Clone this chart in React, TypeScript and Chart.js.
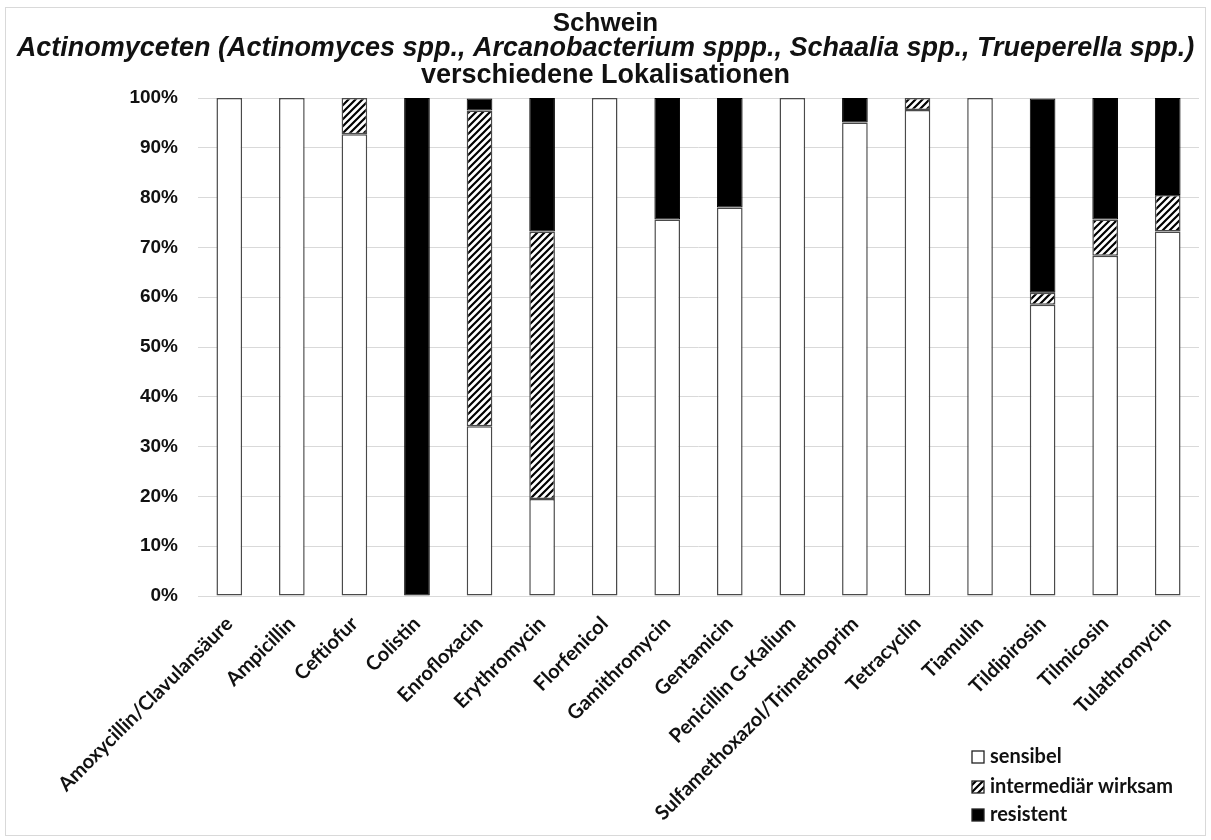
import React, { useEffect, useRef } from 'react';
import { Chart, registerables } from 'chart.js';

Chart.register(...registerables);

const categories = [
  'Amoxycillin/Clavulansäure',
  'Ampicillin',
  'Ceftiofur',
  'Colistin',
  'Enrofloxacin',
  'Erythromycin',
  'Florfenicol',
  'Gamithromycin',
  'Gentamicin',
  'Penicillin G-Kalium',
  'Sulfamethoxazol/Trimethoprim',
  'Tetracyclin',
  'Tiamulin',
  'Tildipirosin',
  'Tilmicosin',
  'Tulathromycin',
];

const sensibel = [100, 100, 92.7, 0, 34.1, 19.5, 100, 75.6, 78.0, 100, 95.1, 97.6, 100, 58.5, 68.3, 73.2];
const intermediaer = [0, 0, 7.3, 0, 63.4, 53.7, 0, 0, 0, 0, 0, 2.4, 0, 2.4, 7.3, 7.3];
const resistent = [0, 0, 0, 100, 2.4, 26.8, 0, 24.4, 22.0, 0, 4.9, 0, 0, 39.0, 24.4, 19.5];

const seriesLabels = ['sensibel', 'intermediär wirksam', 'resistent'];
const titleLines = [
  'Schwein',
  'Actinomyceten (Actinomyces spp., Arcanobacterium sppp., Schaalia spp., Trueperella spp.)',
  'verschiedene Lokalisationen',
];

function makeHatch(): CanvasPattern | string {
  const s = 7;
  const c = document.createElement('canvas');
  c.width = s;
  c.height = s;
  const g = c.getContext('2d');
  if (!g) return '#888';
  g.fillStyle = '#ffffff';
  g.fillRect(0, 0, s, s);
  g.strokeStyle = '#000000';
  g.lineWidth = 2.2;
  g.beginPath();
  g.moveTo(-1, s + 1);
  g.lineTo(s + 1, -1);
  g.moveTo(-s / 2 - 1, s / 2 + 1);
  g.lineTo(s / 2 + 1, -s / 2 - 1);
  g.moveTo(s / 2 - 1, s * 1.5 + 1);
  g.lineTo(s * 1.5 + 1, s / 2 - 1);
  g.stroke();
  return g.createPattern(c, 'repeat') || '#888';
}

const titlePlugin = {
  id: 'titleBlock',
  afterDraw(chart: any) {
    const ctx = chart.ctx as CanvasRenderingContext2D;
    const cx = chart.width / 2;
    ctx.save();
    ctx.fillStyle = '#111111';
    ctx.textAlign = 'center';
    ctx.textBaseline = 'alphabetic';
    ctx.font = 'bold 26px "Liberation Sans", Arial, sans-serif';
    ctx.fillText(titleLines[0], cx, 23);
    ctx.font = 'italic bold 27px "Liberation Sans", Arial, sans-serif';
    ctx.fillText(titleLines[1], cx, 48);
    ctx.font = 'bold 27px "Liberation Sans", Arial, sans-serif';
    ctx.fillText(titleLines[2], cx, 75);
    ctx.restore();
  },
};

const legendPlugin = {
  id: 'boxLegend',
  afterDraw(chart: any) {
    const ctx = chart.ctx as CanvasRenderingContext2D;
    const x0 = 966;
    const ys = [749, 779, 807];
    ctx.save();
    chart.data.datasets.forEach((ds: any, i: number) => {
      const y = ys[i];
      const bs = 12;
      ctx.fillStyle = ds.backgroundColor;
      ctx.fillRect(x0, y - bs / 2, bs, bs);
      ctx.strokeStyle = '#222222';
      ctx.lineWidth = 1.3;
      ctx.strokeRect(x0, y - bs / 2, bs, bs);
      ctx.fillStyle = '#111111';
      ctx.font = 'bold 20px Lato, "Open Sans", sans-serif';
      ctx.textAlign = 'left';
      ctx.textBaseline = 'middle';
      ctx.fillText(ds.label, x0 + 18, y);
    });
    ctx.restore();
  },
};

export default function App() {
  const ref = useRef<HTMLCanvasElement | null>(null);

  useEffect(() => {
    if (!ref.current) return;
    const hatch = makeHatch();
    const border = '#4a4a4a';
    const chart = new Chart(ref.current, {
      type: 'bar',
      data: {
        labels: categories,
        datasets: [
          {
            label: seriesLabels[0],
            data: sensibel,
            backgroundColor: '#ffffff',
            borderColor: border,
            borderWidth: 1.5,
            borderSkipped: false,
          },
          {
            label: seriesLabels[1],
            data: intermediaer,
            backgroundColor: hatch as any,
            borderColor: border,
            borderWidth: 1.5,
            borderSkipped: false,
          },
          {
            label: seriesLabels[2],
            data: resistent,
            backgroundColor: '#000000',
            borderColor: '#000000',
            borderWidth: 1,
            borderSkipped: false,
          },
        ],
      },
      options: {
        responsive: false,
        maintainAspectRatio: false,
        animation: false,
        layout: { padding: { top: 90, right: 6, bottom: 0, left: 0 } },
        datasets: {
          bar: { categoryPercentage: 1, barPercentage: 0.41 },
        },
        plugins: {
          legend: { display: false },
          title: { display: false },
          tooltip: { enabled: false },
        },
        scales: {
          x: {
            stacked: true,
            grid: { display: false },
            border: { display: true, color: '#d9d9d9' },
            ticks: {
              minRotation: 45,
              maxRotation: 45,
              autoSkip: false,
              padding: 8,
              color: '#111111',
              font: { family: 'Lato, "Open Sans", sans-serif', size: 20, weight: 'bold' },
            },
            afterFit(scale: any) {
              scale.height = 239;
            },
          },
          y: {
            stacked: true,
            min: 0,
            max: 100,
            grid: { color: '#d9d9d9', drawTicks: false },
            border: { display: false },
            ticks: {
              stepSize: 10,
              padding: 20,
              color: '#111111',
              font: { family: '"Liberation Sans", Arial, sans-serif', size: 19, weight: 'bold' },
              callback: (v: any) => `${v}%`,
            },
            afterFit(scale: any) {
              scale.width = 192;
            },
          },
        },
      },
      plugins: [titlePlugin, legendPlugin],
    });
    return () => chart.destroy();
  }, []);

  return (
    <div
      style={{
        position: 'absolute',
        left: 5,
        top: 7,
        width: 1199,
        height: 827,
        border: '1px solid #d9d9d9',
        background: '#ffffff',
      }}
    >
      <canvas ref={ref} width={1199} height={827} style={{ display: 'block' }} />
    </div>
  );
}
